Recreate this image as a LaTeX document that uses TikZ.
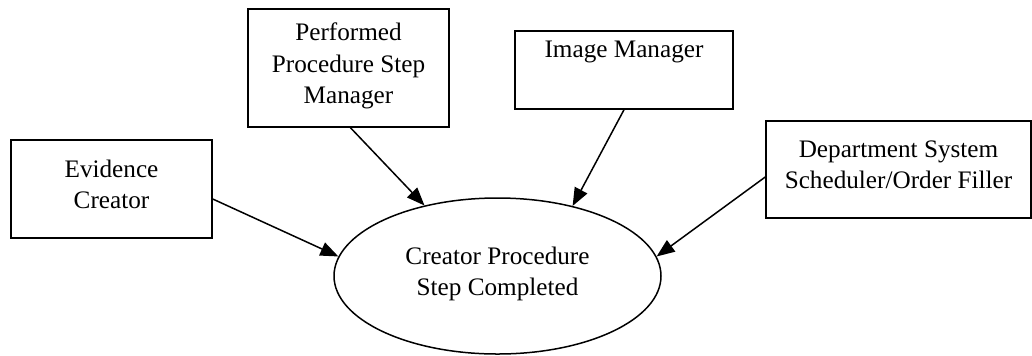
\documentclass[tikz,border=0pt]{standalone}
\usepackage{fontspec}
\setmainfont{Liberation Serif}
\usetikzlibrary{shapes.geometric,arrows.meta}

\begin{document}
\begin{tikzpicture}[x=0.5pt,y=-0.5pt,
  actor/.style={draw, line width=0.75pt, align=center, inner sep=0pt,
    font=\fontsize{12.6}{15.75}\selectfont},
  event/.style={actor, ellipse},
  flow/.style={-{Triangle[length=9pt,width=7pt]}, line width=0.75pt}]
 \useasboundingbox (0,0) rectangle (1032,355);

 % Akteure
 \node[actor, minimum width=100.5pt, minimum height=49pt] (ev) at (111.5,189) {Evidence\\Creator\strut};
 \node[actor, minimum width=100.5pt, minimum height=59pt] (pm) at (348.5,68) {Performed\\Procedure Step\\Manager\strut};
 \node[actor, minimum width=109pt, minimum height=39pt] (im) at (624,70) {Image Manager\\\strut};
 \node[actor, minimum width=132.5pt, minimum height=48.5pt] (ds) at (898.5,169.5) {Department System\\Scheduler/Order Filler\strut};

 % Ereignis
 \node[event, minimum width=163.5pt, minimum height=78pt] (ce) at (497.5,276) {Creator Procedure\\Step Completed\strut};

 % Pfeile zum Ereignis
 \draw[flow] ([yshift=-5pt]ev.east) -- (ce.173.6);
 \draw[flow] ([xshift=1pt]pm.south) -- (ce.136.8);
 \draw[flow] (im.south) -- (ce.43.6);
 \draw[flow] ([yshift=-3.75pt]ds.west) -- (ce.7.1);
\end{tikzpicture}
\end{document}
